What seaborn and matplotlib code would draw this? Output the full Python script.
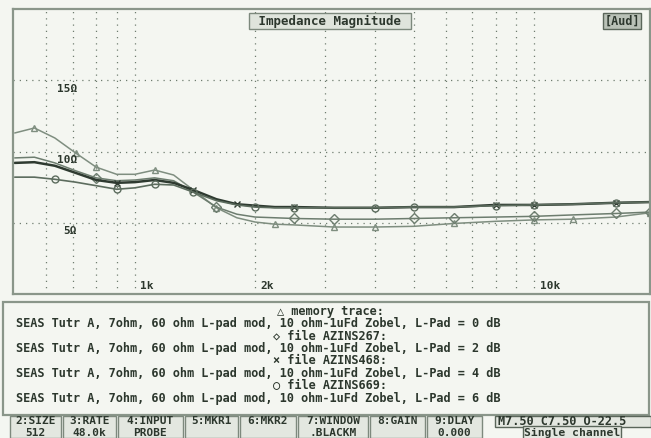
import numpy as np
import pandas as pd
import matplotlib
matplotlib.use("Agg")
import matplotlib.pyplot as plt
import seaborn as sns

# frequencies (Hz) and impedance magnitude (ohm)
freq = [500, 560, 630, 710, 800, 900, 1000, 1120, 1250, 1400, 1600, 1800,
        2000, 2240, 2500, 3150, 4000, 5000, 6300, 8000, 10000, 12500, 16000, 19500]
z_0db = [11.3, 11.65, 10.95, 9.9, 8.9, 8.4, 8.4, 8.7, 8.35, 7.3, 6.05, 5.35,
         5.05, 4.9, 4.85, 4.7, 4.7, 4.75, 4.95, 5.1, 5.2, 5.25, 5.4, 5.7]
z_2db = [9.55, 9.6, 9.2, 8.65, 8.15, 7.95, 8.0, 8.15, 7.95, 7.15, 6.1, 5.6,
         5.4, 5.35, 5.3, 5.25, 5.25, 5.3, 5.35, 5.4, 5.45, 5.55, 5.65, 5.75]
z_4db = [9.2, 9.25, 9.0, 8.5, 8.0, 7.8, 7.85, 8.0, 7.8, 7.3, 6.65, 6.3,
         6.2, 6.1, 6.1, 6.05, 6.05, 6.1, 6.1, 6.25, 6.25, 6.3, 6.4, 6.45]
z_6db = [8.2, 8.2, 8.05, 7.85, 7.6, 7.35, 7.45, 7.7, 7.65, 7.15, 6.55, 6.25,
         6.1, 6.05, 6.05, 6.05, 6.05, 6.1, 6.1, 6.2, 6.25, 6.3, 6.4, 6.45]

trace_names = ["memory trace", "file AZINS267", "file AZINS468", "file AZINS669"]
trace_marks = ["\u25b3", "\u25c7", "\u00d7", "\u25cb"]
pad_db = [0, 2, 4, 6]

grid_x = [600, 700, 800, 900, 1000, 2000, 3000, 4000, 5000, 6000, 7000, 8000, 9000, 10000]
grid_y = [5, 10, 15]
x_labels = {1000: "1k", 2000: "2k", 10000: "10k"}
y_labels = {5: "5\u03a9", 10: "10\u03a9", 15: "15\u03a9"}

keys_top = ["2:SIZE", "3:RATE", "4:INPUT", "5:MKR1", "6:MKR2", "7:WINDOW", "8:GAIN", "9:DLAY"]
keys_bot = ["512", "48.0k", "PROBE", "", "", ".BLACKM", "", "0.000"]

BG = "#f4f6f1"
INK = "#2c372d"
MONO = ["DejaVu Sans Mono", "DejaVu Sans"]

sns.set_theme(style="white")
plt.rcParams["font.family"] = MONO
plt.rcParams["font.weight"] = "bold"

W, H = 651, 438
fig = plt.figure(figsize=(W / 100, H / 100), dpi=100, facecolor=BG)


def fx(x):
    return x / W


def fy(y):
    return 1 - y / H


# ---- impedance plot ----
ax = fig.add_axes([fx(13), fy(294), fx(650) - fx(13), fy(9) - fy(294)])
ax.set_facecolor(BG)

df = pd.DataFrame({"freq": freq * 4,
                   "z": z_0db + z_2db + z_4db + z_6db,
                   "trace": np.repeat(trace_names, len(freq))})

styles = [
    dict(color="#7f8e80", marker="^", lw=1.1, markevery=[1, 3, 4, 7, 10, 13, 15, 16, 18, 20, 21, 23]),
    dict(color="#6d7d6f", marker="D", lw=1.1, markevery=[4, 10, 14, 15, 17, 18, 20, 22, 23]),
    dict(color="#2e3a30", marker="x", lw=1.8, markevery=[5, 9, 11, 14, 19, 20, 22]),
    dict(color="#5c6c5e", marker="o", lw=1.2, markevery=[2, 5, 7, 9, 12, 14, 16, 17, 19, 20, 22]),
]
for name, st in zip(trace_names, styles):
    sns.lineplot(data=df[df["trace"] == name], x="freq", y="z", ax=ax,
                 color=st["color"], lw=st["lw"], marker=st["marker"],
                 markevery=st["markevery"], ms=5, mfc="none", mec=st["color"],
                 mew=1.0, legend=False)

ax.set_xscale("log")
ax.set_xlim(495, 19500)
ax.set_ylim(0, 20)
ax.set_xticks(grid_x)
ax.set_xticks([], minor=True)
ax.set_yticks(grid_y)
ax.set_xticklabels([])
ax.set_yticklabels([])
ax.tick_params(length=0)
ax.set_xlabel("")
ax.set_ylabel("")
ax.grid(True, color="#6f7d70", lw=0.9, ls=(0, (1, 4)))
for s in ax.spines.values():
    s.set_color("#8a968a")
    s.set_linewidth(1.6)

for f, lab in x_labels.items():
    ax.annotate(lab, (f, 0), xytext=(4, 2), textcoords="offset points",
                ha="left", va="bottom", fontsize=8, color=INK)
for v, lab in y_labels.items():
    ax.annotate(lab, (0, v), xycoords=("axes fraction", "data"), xytext=(46, -6),
                textcoords="offset points", ha="right", va="center", fontsize=8, color=INK)

fig.text(fx(330), fy(21), " Impedance Magnitude ", ha="center", va="center", fontsize=9,
         color=INK, bbox=dict(boxstyle="square,pad=0.15", fc="#dfe4dc", ec="#7d897d", lw=1))
fig.text(fx(622), fy(21), "[Aud]", ha="center", va="center", fontsize=8.5, color=INK,
         bbox=dict(boxstyle="square,pad=0.1", fc="#b9c1b7", ec="#5a665a", lw=1))

# ---- legend panel ----
panel = plt.Rectangle((fx(3), fy(415)), fx(649) - fx(3), fy(302) - fy(415),
                      transform=fig.transFigure, fill=False, ec="#8a968a", lw=1.6)
fig.add_artist(panel)

for i, (name, mk, db) in enumerate(zip(trace_names, trace_marks, pad_db)):
    y0 = 311 + 25 * i
    fig.text(fx(330), fy(y0), f"{mk} {name}:", ha="center", va="center",
             fontsize=8.6, color=INK)
    fig.text(fx(16), fy(y0 + 12.5),
             f"SEAS Tutr A, 7ohm, 60 ohm L-pad mod, 10 ohm-1uFd Zobel, L-Pad = {db} dB",
             ha="left", va="center", fontsize=8.6, color=INK)

# ---- soft key row ----
edges = [10, 63, 118, 185, 240, 298, 370, 427, 484]
for i, (t, b) in enumerate(zip(keys_top, keys_bot)):
    x0, x1 = edges[i], edges[i + 1] - 2
    fig.add_artist(plt.Rectangle((fx(x0), fy(438)), fx(x1) - fx(x0), fy(416) - fy(438),
                                 transform=fig.transFigure, fc="#e3e7e0", ec="#7d897d", lw=1))
    fig.text(fx((x0 + x1) / 2), fy(421.5), t, ha="center", va="center", fontsize=8, color=INK)
    if b:
        fig.text(fx((x0 + x1) / 2), fy(433), b, ha="center", va="center", fontsize=8, color=INK)

fig.add_artist(plt.Rectangle((fx(495), fy(427)), fx(651) - fx(495), fy(416) - fy(427),
                             transform=fig.transFigure, fc="#e3e7e0", ec="#5a665a", lw=1))
fig.text(fx(498), fy(421.5), "M7.50 C7.50 O-22.5", ha="left", va="center", fontsize=8.6, color=INK)
fig.text(fx(572), fy(432.5), "Single channel", ha="center", va="center", fontsize=8.2, color=INK,
         bbox=dict(boxstyle="square,pad=0.1", fc="#e3e7e0", ec="#5a665a", lw=1))

fig.savefig("out.png", dpi=100, facecolor=BG)
